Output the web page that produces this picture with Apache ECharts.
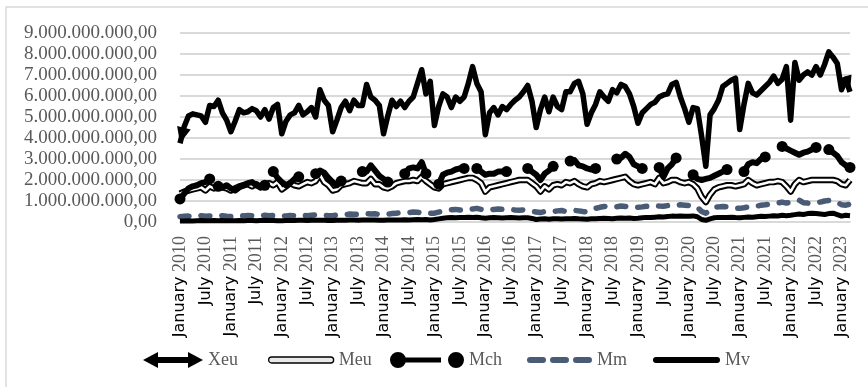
<!DOCTYPE html>
<html>
<head>
<meta charset="utf-8">
<script src="https://cdn.jsdelivr.net/npm/echarts@6/dist/echarts.min.js"></script>
<style>
  html, body { margin: 0; padding: 0; background: #fff; }
  #chart { width: 868px; height: 387px; }
</style>
</head>
<body>
<div id="chart"></div>
<script>
// Monthly values, January 2010 – March 2023, in thousand millions (×1e9)
const MONTH_NAMES = ['January', 'February', 'March', 'April', 'May', 'June', 'July',
  'August', 'September', 'October', 'November', 'December'];
const FIRST_YEAR = 2010;
const POINT_COUNT = 159;
const UNIT = 1e9;

const XEU = [
  3.75, 4.55, 5.05, 5.15, 5.1, 5.05, 4.75, 5.55, 5.5, 5.8, 5.2, 4.85,
  4.3, 4.8, 5.35, 5.2, 5.25, 5.4, 5.3, 5.0, 5.35, 4.9, 5.45, 5.6,
  4.2, 4.8, 5.1, 5.2, 5.55, 5.1, 5.25, 5.45, 5.0, 6.3, 5.8, 5.55,
  4.3, 4.85, 5.45, 5.75, 5.3, 5.8, 5.55, 5.55, 6.55, 5.95, 5.8, 5.55,
  4.2, 5.05, 5.8, 5.5, 5.75, 5.45, 5.75, 5.95, 6.6, 7.25, 6.1, 6.7,
  4.6, 5.5, 6.1, 5.95, 5.45, 5.95, 5.75, 5.95, 6.6, 7.4, 6.6, 6.2,
  4.15, 5.2, 5.45, 5.1, 5.5, 5.35, 5.6, 5.8, 5.95, 6.2, 6.5, 5.75,
  4.5, 5.35, 5.95, 5.25, 5.95, 5.5, 5.35, 6.2, 6.2, 6.6, 6.7, 6.1,
  4.65, 5.2, 5.6, 6.2, 5.95, 5.75, 6.3, 6.15, 6.55, 6.45, 6.1, 5.5,
  4.7, 5.2, 5.4, 5.6, 5.7, 5.95, 6.05, 6.1, 6.55, 6.65, 5.95, 5.4,
  4.75, 5.45, 5.4, 4.1, 2.65, 5.1, 5.4, 5.8, 6.45, 6.6, 6.75, 6.85,
  4.4, 5.6, 6.6, 6.15, 6.05, 6.25, 6.45, 6.65, 6.95, 6.6, 6.8, 7.4,
  4.85, 7.6, 6.75, 7.0, 7.15, 7.0, 7.4, 7.0, 7.5, 8.1, 7.85, 7.55,
  6.3, 6.8, 6.2
];

const MEU = [
  1.35, 1.45, 1.5, 1.55, 1.6, 1.65, 1.5, 1.7, 1.6, 1.75, 1.65, 1.6,
  1.5, 1.6, 1.7, 1.75, 1.8, 1.7, 1.8, 1.65, 1.75, 1.85, 1.75, 1.9,
  1.55, 1.7, 1.85, 1.75, 1.7, 1.8, 1.9, 1.85, 1.95, 2.25, 1.9, 1.75,
  1.5, 1.55, 1.75, 1.8, 1.85, 1.95, 1.9, 1.85, 1.85, 2.05, 1.8, 1.8,
  1.65, 1.6, 1.7, 1.85, 1.9, 1.95, 1.95, 2.0, 1.95, 2.15, 1.95, 1.8,
  1.65, 1.6, 1.8, 1.85, 1.9, 1.95, 2.0, 2.05, 2.1, 2.1, 2.0, 1.85,
  1.45, 1.65, 1.7, 1.75, 1.8, 1.85, 1.9, 1.95, 2.0, 2.0, 2.0, 1.85,
  1.7, 1.45, 1.7, 1.55, 1.75, 1.8, 1.75, 1.9, 1.85, 1.95, 1.8, 1.7,
  1.65, 1.8, 1.85, 1.95, 1.9, 1.95, 2.0, 2.05, 2.1, 2.15, 1.95, 1.8,
  1.75, 1.8, 1.85, 1.9, 1.8, 2.1, 1.85, 1.9, 2.0, 2.0, 1.9, 1.85,
  1.9, 1.8, 1.6, 1.2, 0.95, 1.3, 1.55, 1.65, 1.7, 1.75, 1.75, 1.7,
  1.75, 1.8, 2.0, 1.85, 1.75, 1.8, 1.85, 1.9, 1.9, 1.95, 1.9, 1.7,
  1.45, 1.8, 2.0, 1.9, 1.95, 2.0, 2.0, 2.0, 2.0, 2.0, 2.0, 1.95,
  1.8, 1.75, 2.0
];

// Months without a value are left as null, which breaks the line
const MCH = [
  1.1, 1.35, 1.6, 1.7, 1.75, 1.85, 1.9, 2.05, null, 1.7, 1.65, 1.75,
  1.6, 1.5, 1.65, 1.75, 1.85, 1.9, 1.75, 1.65, 1.75, null, 2.4, 2.1,
  1.9, 1.75, 1.85, 2.05, 2.15, null, null, null, 2.3, 2.45, 2.35, 2.1,
  1.9, 1.75, 1.95, null, null, null, null, 2.4, 2.4, 2.7, 2.45, 2.2,
  2.05, 1.9, null, null, null, 2.3, 2.55, 2.6, 2.55, 2.85, 2.3, null,
  null, 1.8, 2.25, 2.35, 2.4, 2.5, 2.55, 2.55, null, null, 2.55, 2.4,
  2.25, 2.3, 2.3, 2.4, 2.4, 2.4, null, null, null, null, 2.55, 2.4,
  2.25, 2.0, 2.3, 2.45, 2.65, null, null, null, 2.9, 2.95, 2.7, 2.65,
  2.55, 2.5, 2.55, null, null, null, null, 3.0, 3.05, 3.25, 3.1, 2.75,
  2.65, 2.55, null, null, null, 2.6, 2.15, 2.55, 2.75, 3.05, null, null,
  null, 2.25, 2.05, 2.0, 2.05, 2.1, 2.2, 2.3, 2.4, 2.5, null, null,
  null, 2.4, 2.75, 2.85, 2.8, 3.0, 3.1, null, null, null, 3.6, 3.5,
  3.4, 3.3, 3.2, 3.3, 3.35, 3.45, 3.55, null, null, 3.45, 3.3, 3.15,
  2.85, 2.7, 2.6
];

const MM = [
  0.25, 0.27, 0.28, 0.26, 0.28, 0.3, 0.27, 0.29, 0.3, 0.28, 0.3, 0.27,
  0.26, 0.28, 0.3, 0.29, 0.31, 0.3, 0.28, 0.3, 0.32, 0.3, 0.31, 0.28,
  0.27, 0.29, 0.31, 0.3, 0.32, 0.31, 0.3, 0.32, 0.34, 0.33, 0.32, 0.3,
  0.3, 0.33, 0.36, 0.35, 0.38, 0.37, 0.36, 0.39, 0.4, 0.38, 0.39, 0.36,
  0.35, 0.38, 0.4, 0.42, 0.44, 0.43, 0.45, 0.48, 0.46, 0.44, 0.46, 0.42,
  0.42, 0.47, 0.52, 0.55, 0.58, 0.6, 0.57, 0.6, 0.63, 0.62, 0.65, 0.6,
  0.55, 0.58, 0.6, 0.62, 0.6, 0.58, 0.6, 0.57, 0.56, 0.58, 0.55, 0.5,
  0.48, 0.45, 0.5, 0.52, 0.5, 0.53, 0.55, 0.5, 0.52, 0.55, 0.53, 0.5,
  0.48, 0.6, 0.65, 0.7, 0.74, 0.72, 0.7, 0.73, 0.76, 0.74, 0.72, 0.7,
  0.7, 0.72, 0.75, 0.74, 0.78, 0.76, 0.75, 0.78, 0.8, 0.78, 0.82, 0.8,
  0.78, 0.8, 0.7, 0.5, 0.42, 0.55, 0.7, 0.72, 0.74, 0.72, 0.7, 0.66,
  0.65, 0.68, 0.72, 0.7, 0.75, 0.8, 0.82, 0.85, 0.88, 0.9, 0.95, 0.9,
  0.95, 1.0, 1.04, 0.92, 0.9, 0.88, 0.9, 0.95, 1.0, 1.02, 0.98, 0.95,
  0.82, 0.8, 0.85
];

const MV = [
  0.05, 0.05, 0.06, 0.05, 0.06, 0.07, 0.06, 0.06, 0.07, 0.06, 0.07, 0.06,
  0.06, 0.06, 0.07, 0.06, 0.07, 0.07, 0.06, 0.07, 0.08, 0.07, 0.07, 0.06,
  0.06, 0.07, 0.07, 0.07, 0.08, 0.08, 0.07, 0.08, 0.08, 0.08, 0.08, 0.07,
  0.07, 0.08, 0.08, 0.08, 0.09, 0.09, 0.08, 0.09, 0.09, 0.09, 0.1, 0.08,
  0.08, 0.09, 0.09, 0.1, 0.1, 0.11, 0.1, 0.11, 0.12, 0.11, 0.12, 0.1,
  0.12, 0.15, 0.18, 0.2, 0.21, 0.2, 0.21, 0.22, 0.23, 0.22, 0.23, 0.2,
  0.18, 0.2, 0.21, 0.2, 0.19, 0.2, 0.21, 0.2, 0.19, 0.2, 0.2, 0.17,
  0.12, 0.14, 0.15, 0.13, 0.15, 0.16, 0.14, 0.15, 0.16, 0.17, 0.15, 0.14,
  0.13, 0.15, 0.16, 0.17, 0.18, 0.17, 0.16, 0.18, 0.19, 0.18, 0.19, 0.17,
  0.18, 0.2, 0.22, 0.21, 0.23, 0.25, 0.24, 0.26, 0.28, 0.27, 0.29, 0.27,
  0.27, 0.29, 0.25, 0.12, 0.08, 0.15, 0.2, 0.22, 0.21, 0.22, 0.23, 0.21,
  0.2, 0.22, 0.24, 0.23, 0.25, 0.27, 0.26, 0.28, 0.3, 0.29, 0.32, 0.3,
  0.32, 0.35, 0.38, 0.36, 0.4, 0.42, 0.4, 0.38, 0.36, 0.4, 0.42, 0.35,
  0.28, 0.32, 0.3
];

// Category labels "January 2010" … "March 2023"
const categories = [];
for (let i = 0; i < POINT_COUNT; i++) {
  categories.push(MONTH_NAMES[i % 12] + ' ' + (FIRST_YEAR + Math.floor(i / 12)));
}

const SERIF = "'Liberation Serif', 'Times New Roman', serif";
const SANS = "'DejaVu Sans', Verdana, sans-serif";
const TEXT_GREY = '#595959';
const GRID_GREY = '#d9d9d9';
const MM_COLOR = '#4a5b76';

// Excel-style line end shapes
const ARROW_PATH = 'path://M0 0L7 16L-7 16Z';
const ARROW_W = 14, ARROW_L = 16;

function formatAmount(v) {
  const n = Math.round(v * UNIT);
  return n.toString().replace(/\B(?=(\d{3})+(?!\d))/g, '.') + ',00';
}

// Round caps on both ends of every unbroken run of the Mch line
const mchData = MCH.map((v, i) => {
  if (v == null) return null;
  const isEnd = i === 0 || i === MCH.length - 1 || MCH[i - 1] == null || MCH[i + 1] == null;
  return isEnd ? { value: v, symbol: 'circle', symbolSize: 11 } : { value: v, symbol: 'none' };
});

function legendFor(left, name, width, icon, itemStyle) {
  return {
    left: left, top: 351, padding: 0, itemGap: 0,
    itemWidth: width, itemHeight: 16,
    symbolKeepAspect: true, selectedMode: false,
    textStyle: { fontFamily: SERIF, fontSize: 18, color: TEXT_GREY },
    data: [{ name: name, icon: icon, itemStyle: itemStyle }]
  };
}

const legends = [
  legendFor(143, 'Xeu', 60,
    'path://M0 8L15 0L15 5L45 5L45 0L60 8L45 16L45 11L15 11L15 16Z',
    { color: '#000', borderWidth: 0 }),
  legendFor(268, 'Meu', 65,
    'path://M3 0L62 0A3 3 0 0 1 62 6L3 6A3 3 0 0 1 3 0Z',
    { color: '#e9e9e9', borderColor: '#000', borderWidth: 1.3 }),
  legendFor(390, 'Mch', 74,
    'path://M0 8A8 8 0 1 1 16 8A8 8 0 1 1 0 8Z M15.5 5.5L51 5.5L51 10.5L15.5 10.5Z M58 8A8 8 0 1 1 74 8A8 8 0 1 1 58 8Z',
    { color: '#000', borderWidth: 0 }),
  legendFor(527, 'Mm', 65,
    'path://M3 0L16 0A3 3 0 0 1 16 6L3 6A3 3 0 0 1 3 0Z M26 0L39 0A3 3 0 0 1 39 6L26 6A3 3 0 0 1 26 0Z M49 0L62 0A3 3 0 0 1 62 6L49 6A3 3 0 0 1 49 0Z',
    { color: MM_COLOR, borderWidth: 0 }),
  legendFor(653, 'Mv', 67,
    'path://M3 0L64 0A3 3 0 0 1 64 6L3 6A3 3 0 0 1 3 0Z',
    { color: '#000', borderWidth: 0 })
];

const chart = echarts.init(document.getElementById('chart'), null, { renderer: 'canvas' });

function buildOption(xeuData) {
  return {
    animation: false,
    backgroundColor: '#fff',
    graphic: [{
      type: 'rect', silent: true, z: -10,
      shape: { x: 6, y: 7, width: 900, height: 420 },
      style: { fill: 'none', stroke: GRID_GREY, lineWidth: 1.5 }
    }],
    legend: legends,
    grid: { left: 180, right: 18, top: 33, bottom: 165, containLabel: false, outerBoundsMode: 'none' },
    xAxis: {
      type: 'category',
      data: categories,
      boundaryGap: false,
      axisLine: { show: true, lineStyle: { color: GRID_GREY, width: 1.8 } },
      axisTick: { show: false },
      splitLine: { show: false },
      axisLabel: {
        interval: 5,
        rotate: 90,
        margin: 14,
        fontFamily: SERIF, fontSize: 18, color: TEXT_GREY,
        formatter: function (val) {
          const parts = val.split(' ');
          return '{m|' + parts[0] + '} {y|' + parts[1] + '}';
        },
        rich: {
          m: { fontFamily: SANS, fontSize: 16, color: '#000' },
          y: { fontFamily: SERIF, fontSize: 18, color: TEXT_GREY }
        }
      }
    },
    yAxis: {
      type: 'value',
      min: 0, max: 9, interval: 1,
      axisLine: { show: false },
      axisTick: { show: false },
      splitLine: { lineStyle: { color: GRID_GREY, width: 1.8 } },
      axisLabel: {
        margin: 23,
        fontFamily: SERIF, fontSize: 19, color: TEXT_GREY,
        formatter: formatAmount
      }
    },
    series: [
      {
        name: 'Xeu', type: 'line', data: xeuData,
        symbol: 'none', showSymbol: true, showAllSymbol: true,
        lineStyle: { color: '#000', width: 5.5, join: 'round', cap: 'butt' },
        itemStyle: { color: '#000' }
      },
      {
        name: 'Meu', type: 'line', data: MEU, symbol: 'none',
        lineStyle: { color: '#000', width: 6.5, join: 'round' }
      },
      {
        name: 'Meu', type: 'line', data: MEU, symbol: 'none',
        lineStyle: { color: '#fff', width: 2.6, join: 'round' }
      },
      {
        name: 'Mch', type: 'line', data: mchData, connectNulls: false,
        symbol: 'none', showSymbol: true, showAllSymbol: true,
        lineStyle: { color: '#000', width: 6, join: 'round' },
        itemStyle: { color: '#000' }
      },
      {
        name: 'Mm', type: 'line', data: MM, symbol: 'none',
        lineStyle: { color: MM_COLOR, width: 5.5, type: [9, 12], cap: 'round', join: 'round' }
      },
      {
        name: 'Mv', type: 'line', data: MV, symbol: 'none',
        lineStyle: { color: '#000', width: 5, join: 'round' }
      }
    ]
  };
}

// First pass draws the axes so the arrow heads can follow the line direction
chart.setOption(buildOption(XEU.slice()));

function arrowAt(i, j) {
  const p = chart.convertToPixel({ seriesIndex: 0 }, [i, XEU[i]]);
  const q = chart.convertToPixel({ seriesIndex: 0 }, [j, XEU[j]]);
  const dx = p[0] - q[0], dy = p[1] - q[1];
  const len = Math.hypot(dx, dy) || 1;
  const ux = dx / len, uy = dy / len;
  return {
    value: XEU[i],
    symbol: ARROW_PATH,
    symbolSize: [ARROW_W, ARROW_L],
    symbolRotate: Math.atan2(-dy, dx) * 180 / Math.PI - 90,
    symbolOffset: [-ux * ARROW_L / 2, -uy * ARROW_L / 2]
  };
}

const last = XEU.length - 1;
const xeuData = XEU.map((v, i) => {
  if (i === 0) return arrowAt(0, 1);
  if (i === last) return arrowAt(last, last - 1);
  return v;
});
chart.setOption(buildOption(xeuData));
</script>
</body>
</html>
